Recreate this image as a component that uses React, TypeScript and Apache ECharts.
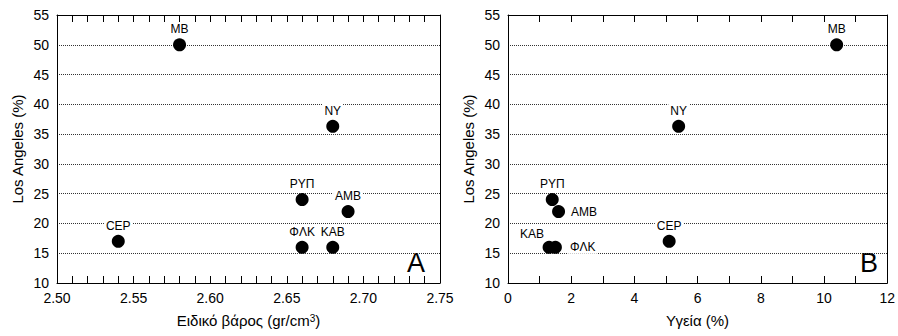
import React, { useEffect, useRef } from "react";
import * as echarts from "echarts";

const names = ["MB", "NY", "ΡΥΠ", "ΑΜΒ", "CEP", "ΦΛΚ", "ΚΑΒ"];
const losAngeles = [50, 36.3, 24, 22, 17, 16, 16];
const specificWeight = [2.58, 2.68, 2.66, 2.69, 2.54, 2.66, 2.68];
const soundness = [10.4, 5.4, 1.4, 1.6, 5.1, 1.5, 1.3];
const yTicks = { min: 10, max: 55, interval: 5 };
const xTicksA = { min: 2.5, max: 2.75, interval: 0.05, minorSplit: 5 };
const xTicksB = { min: 0, max: 12, interval: 2, minorSplit: 2 };

const FONT = "Liberation Sans, Arial, sans-serif";

const labelPosB: Record<string, any> = {
  "ΑΜΒ": { position: "right", distance: 4 },
  "ΦΛΚ": { position: "right", distance: 6 },
  "ΚΑΒ": { position: "top", distance: 1, offset: [-17, 0] },
};

export default function App() {
  const ref = useRef<HTMLDivElement>(null);
  useEffect(() => {
    if (!ref.current) return;
    const chart = echarts.init(ref.current, null, { renderer: "svg" });
    const baseLabel = () => ({
      show: true,
      position: "top",
      distance: 3,
      fontSize: 12,
      fontFamily: FONT,
      color: "#000",
      backgroundColor: "#fff",
      padding: [1, 2, 0, 2],
      formatter: (p: any) => p.data.name,
    });
    const xAxisDef = (t: any, gridIndex: number, position: string) => ({
      type: "value",
      gridIndex,
      position,
      min: t.min,
      max: t.max,
      interval: t.interval,
      axisLine: { show: true, onZero: false, lineStyle: { color: "#000" } },
      axisTick: { show: true, inside: true, length: 7, lineStyle: { color: "#000" } },
      minorTick: { show: true, splitNumber: t.minorSplit, length: 7, lineStyle: { color: "#000" } },
      splitLine: { show: true, lineStyle: { color: "rgba(0,0,0,0)" } },
    });
    const yAxisDef = (gridIndex: number) => ({
      type: "value",
      gridIndex,
      position: "left",
      min: yTicks.min,
      max: yTicks.max,
      interval: yTicks.interval,
      axisLine: { show: true, onZero: false, lineStyle: { color: "#000" } },
      axisTick: { show: false },
      axisLabel: { fontSize: 14, fontFamily: FONT, color: "#000", margin: 8 },
      splitLine: { show: true, lineStyle: { type: "dotted", color: "#333", width: 1 } },
      name: "Los Angeles (%)",
      nameLocation: "middle",
      nameGap: 32,
      nameTextStyle: { fontSize: 15, fontFamily: FONT, color: "#000" },
    });
    const yRightDef = (gridIndex: number) => ({
      type: "value",
      gridIndex,
      position: "right",
      min: yTicks.min,
      max: yTicks.max,
      interval: yTicks.interval,
      axisLine: { show: true, onZero: false, lineStyle: { color: "#000" } },
      axisTick: { show: false },
      axisLabel: { show: false },
      splitLine: { show: false },
    });
    const xName = (name: string) => ({
      name,
      nameLocation: "middle",
      nameGap: 30,
      nameTextStyle: {
        fontSize: 15,
        fontFamily: FONT,
        color: "#000",
        rich: { sup: { fontSize: 10, fontFamily: FONT, color: "#000", verticalAlign: "top", lineHeight: 10 } },
      },
    });
    const dataA = names.map((n, i) => ({ name: n, value: [specificWeight[i], losAngeles[i]] }));
    const dataB = names.map((n, i) => ({
      name: n,
      value: [soundness[i], losAngeles[i]],
      label: labelPosB[n] || {},
    }));
    chart.setOption({
      animation: false,
      grid: [
        { left: 57, top: 15, width: 383, height: 268 },
        { left: 508, top: 15, width: 384, height: 268 },
      ],
      xAxis: [
        {
          ...xAxisDef(xTicksA, 0, "bottom"),
          axisLabel: { fontSize: 14, fontFamily: FONT, color: "#000", margin: 8, formatter: (v: number) => v.toFixed(2) },
          ...xName("Ειδικό βάρος (gr/cm{sup|3})"),
        },
        {
          ...xAxisDef(xTicksB, 1, "bottom"),
          axisLabel: { fontSize: 14, fontFamily: FONT, color: "#000", margin: 8 },
          ...xName("Υγεία (%)"),
        },
        { ...xAxisDef(xTicksA, 0, "top"), axisLabel: { show: false } },
        { ...xAxisDef(xTicksB, 1, "top"), axisLabel: { show: false } },
      ],
      yAxis: [yAxisDef(0), yAxisDef(1), yRightDef(0), yRightDef(1)],
      series: [
        {
          type: "scatter",
          xAxisIndex: 0,
          yAxisIndex: 0,
          symbolSize: 13,
          itemStyle: { color: "#000", opacity: 1 },
          label: baseLabel(),
          data: dataA,
        },
        {
          type: "scatter",
          xAxisIndex: 1,
          yAxisIndex: 1,
          symbolSize: 13,
          itemStyle: { color: "#000", opacity: 1 },
          label: baseLabel(),
          data: dataB,
        },
      ],
      graphic: [
        {
          type: "text",
          x: 416,
          y: 263,
          style: { text: "A", fontSize: 27, fontFamily: FONT, fill: "#000", align: "center", verticalAlign: "middle", backgroundColor: "#fff", padding: [1, 4] },
        },
        {
          type: "text",
          x: 869,
          y: 263,
          style: { text: "B", fontSize: 27, fontFamily: FONT, fill: "#000", align: "center", verticalAlign: "middle", backgroundColor: "#fff", padding: [1, 4] },
        },
      ],
    });
    return () => chart.dispose();
  }, []);
  return <div ref={ref} style={{ width: 898, height: 336, position: "absolute", left: 0, top: 0 }} />;
}
